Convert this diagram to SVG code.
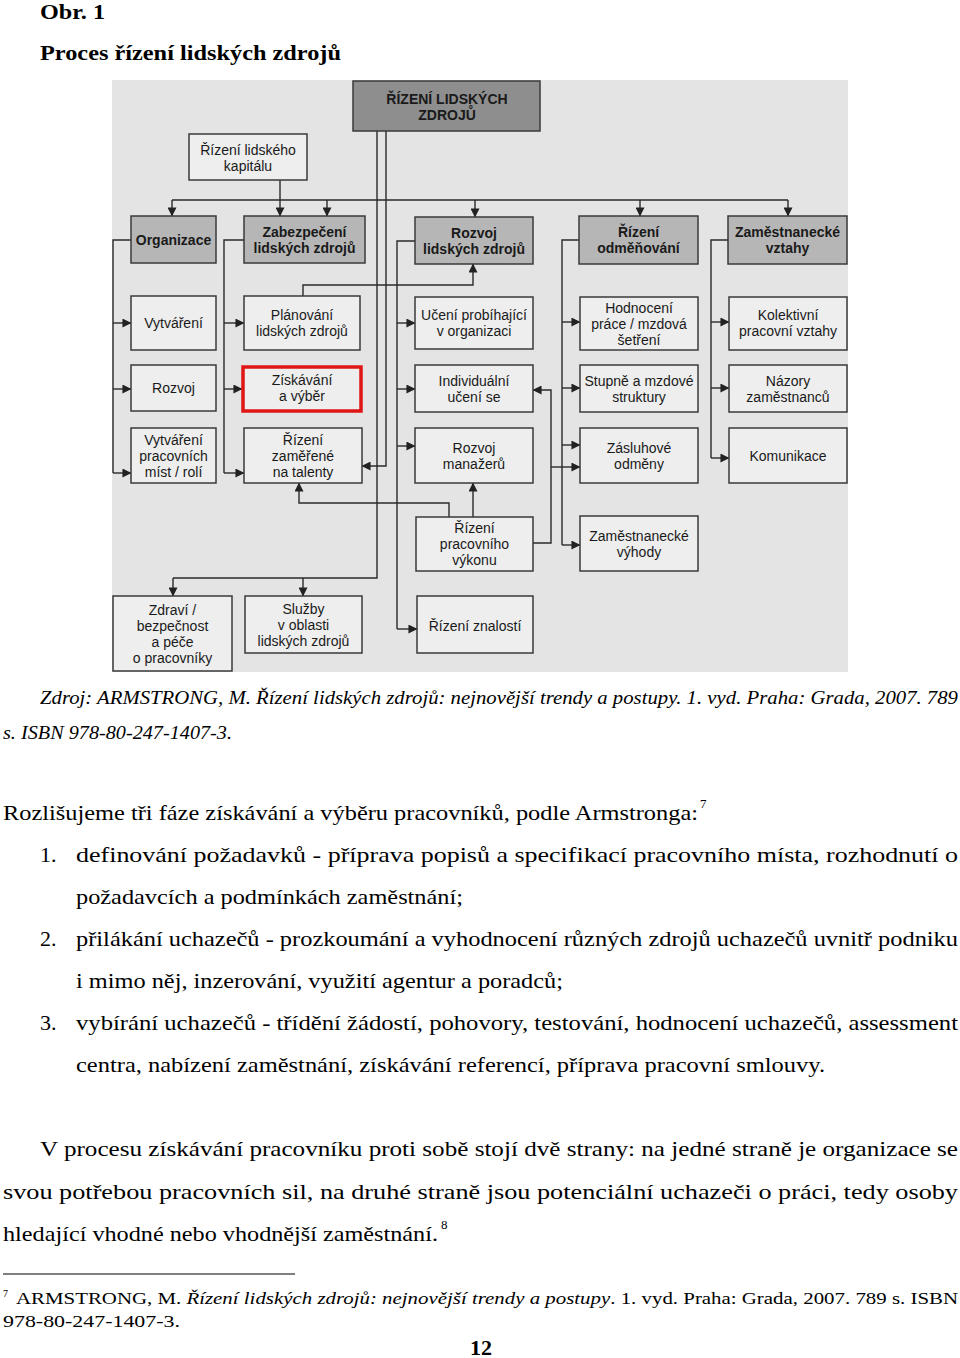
<svg xmlns="http://www.w3.org/2000/svg" width="960" height="1358" viewBox="0 0 960 1358">
<defs>
<marker id="ah" viewBox="0 0 10 10" refX="9.5" refY="5" markerWidth="9" markerHeight="9" markerUnits="userSpaceOnUse" orient="auto">
<path d="M0,0 L10,5 L0,10 z" fill="#222"/>
</marker>
<style>
.bx{fill:#eeeeee;stroke:#3a3a3a;stroke-width:1.5}
.b1{fill:#b6b6b6;stroke:#3a3a3a;stroke-width:1.5}
.b0{fill:#8e8e8e;stroke:#3a3a3a;stroke-width:1.5}
.red{fill:#eeeeee;stroke:#e01515;stroke-width:3.5}
.t{font-family:"Liberation Sans",Arial,sans-serif;font-size:14px;fill:#1a1a1a;text-anchor:middle}
.tb{font-family:"Liberation Sans",Arial,sans-serif;font-size:14px;font-weight:bold;fill:#1a1a1a;text-anchor:middle}
.c{fill:none;stroke:#2a2a2a;stroke-width:1.4}
.a{fill:none;stroke:#2a2a2a;stroke-width:1.4;marker-end:url(#ah)}
.p{font-family:"Liberation Serif","Times New Roman",serif;font-size:22px;fill:#000}
.pi{font-family:"Liberation Serif","Times New Roman",serif;font-size:19px;font-style:italic;fill:#000}
.h{font-family:"Liberation Serif","Times New Roman",serif;font-size:22px;font-weight:bold;fill:#000}
.fn{font-family:"Liberation Serif","Times New Roman",serif;font-size:17px;fill:#000}
</style>
</defs>
<rect width="960" height="1358" fill="#ffffff"/>
<text class="h" x="40" y="19" textLength="65" lengthAdjust="spacingAndGlyphs">Obr. 1</text>
<text class="h" x="40" y="60" textLength="301" lengthAdjust="spacingAndGlyphs">Proces řízení lidských zdrojů</text>
<rect x="112" y="80" width="736" height="592" fill="#e4e4e4"/>
<g id="connectors">
<path class="c" d="M172,200 H788"/>
<path class="a" d="M172,200 V216"/>
<path class="a" d="M327,200 V216"/>
<path class="a" d="M475,200 V217"/>
<path class="a" d="M640,200 V216"/>
<path class="a" d="M788,200 V216"/>
<path class="a" d="M280,180 V216"/>
<path class="c" d="M377,131 V578 H173"/>
<path class="a" d="M173,578 V596"/>
<path class="a" d="M303,578 V596"/>
<path class="a" d="M386,131 V466 H362"/>
<path class="c" d="M131,240 H113 V473"/>
<path class="a" d="M113,323 H131"/>
<path class="a" d="M113,389 H131"/>
<path class="a" d="M113,473 H131"/>
<path class="c" d="M244,240 H224 V473"/>
<path class="a" d="M224,323 H244"/>
<path class="a" d="M224,389 H242"/>
<path class="a" d="M224,473 H244"/>
<path class="a" d="M303,296 V285 H473 V264"/>
<path class="c" d="M415,241 H397 V629"/>
<path class="a" d="M397,323 H415"/>
<path class="a" d="M397,389 H415"/>
<path class="a" d="M397,446 H415"/>
<path class="a" d="M397,629 H417"/>
<path class="a" d="M473,517 V483"/>
<path class="a" d="M449,517 V503 H299 V483"/>
<path class="a" d="M533,543 H551 V390 H533"/>
<path class="a" d="M551,467 H580"/>
<path class="c" d="M579,240 H562 V545"/>
<path class="a" d="M562,322 H580"/>
<path class="a" d="M562,388 H580"/>
<path class="a" d="M562,445 H580"/>
<path class="a" d="M562,545 H580"/>
<path class="c" d="M728,240 H711 V458"/>
<path class="a" d="M711,322 H729"/>
<path class="a" d="M711,388 H729"/>
<path class="a" d="M711,458 H729"/>
</g>
<g id="n_root"><rect class="b0" x="353" y="81" width="187" height="50"/><text class="tb" x="447" y="104">ŘÍZENÍ LIDSKÝCH</text><text class="tb" x="447" y="120">ZDROJŮ</text></g>
<g id="n_kapital"><rect class="bx" x="189" y="134" width="118" height="46"/><text class="t" x="248" y="155">Řízení lidského</text><text class="t" x="248" y="171">kapitálu</text></g>
<g id="n_org"><rect class="b1" x="131" y="216" width="85" height="47"/><text class="tb" x="173.5" y="245">Organizace</text></g>
<g id="n_zab"><rect class="b1" x="244" y="216" width="121" height="47"/><text class="tb" x="304.5" y="237">Zabezpečení</text><text class="tb" x="304.5" y="253">lidských zdrojů</text></g>
<g id="n_rozvojlz"><rect class="b1" x="415" y="217" width="118" height="47"/><text class="tb" x="474" y="238">Rozvoj</text><text class="tb" x="474" y="254">lidských zdrojů</text></g>
<g id="n_odm"><rect class="b1" x="579" y="216" width="119" height="48"/><text class="tb" x="638.5" y="237">Řízení</text><text class="tb" x="638.5" y="253">odměňování</text></g>
<g id="n_zamvz"><rect class="b1" x="728" y="216" width="119" height="48"/><text class="tb" x="787.5" y="237">Zaměstnanecké</text><text class="tb" x="787.5" y="253">vztahy</text></g>
<g id="n_vytv"><rect class="bx" x="131" y="296" width="85" height="54"/><text class="t" x="173.5" y="328">Vytváření</text></g>
<g id="n_plan"><rect class="bx" x="244" y="296" width="116" height="54"/><text class="t" x="302" y="320">Plánování</text><text class="t" x="302" y="336">lidských zdrojů</text></g>
<g id="n_uceni"><rect class="bx" x="415" y="297" width="118" height="52"/><text class="t" x="474" y="320">Učení probíhající</text><text class="t" x="474" y="336">v organizaci</text></g>
<g id="n_hodn"><rect class="bx" x="580" y="297" width="118" height="53"/><text class="t" x="639" y="313">Hodnocení</text><text class="t" x="639" y="329">práce / mzdová</text><text class="t" x="639" y="345">šetření</text></g>
<g id="n_kol"><rect class="bx" x="729" y="297" width="118" height="53"/><text class="t" x="788" y="320">Kolektivní</text><text class="t" x="788" y="336">pracovní vztahy</text></g>
<g id="n_rozvoj"><rect class="bx" x="131" y="365" width="85" height="46"/><text class="t" x="173.5" y="393">Rozvoj</text></g>
<g id="n_ziskavani"><rect class="red" x="243" y="367" width="118" height="44"/><text class="t" x="302" y="385">Získávání</text><text class="t" x="302" y="401">a výběr</text></g>
<g id="n_indiv"><rect class="bx" x="415" y="365" width="118" height="47"/><text class="t" x="474" y="386">Individuální</text><text class="t" x="474" y="402">učení se</text></g>
<g id="n_stupne"><rect class="bx" x="580" y="365" width="118" height="47"/><text class="t" x="639" y="386">Stupně a mzdové</text><text class="t" x="639" y="402">struktury</text></g>
<g id="n_nazory"><rect class="bx" x="729" y="365" width="118" height="47"/><text class="t" x="788" y="386">Názory</text><text class="t" x="788" y="402">zaměstnanců</text></g>
<g id="n_vytvmist"><rect class="bx" x="131" y="428" width="85" height="55"/><text class="t" x="173.5" y="445">Vytváření</text><text class="t" x="173.5" y="461">pracovních</text><text class="t" x="173.5" y="477">míst / rolí</text></g>
<g id="n_talent"><rect class="bx" x="244" y="428" width="118" height="55"/><text class="t" x="303" y="445">Řízení</text><text class="t" x="303" y="461">zaměřené</text><text class="t" x="303" y="477">na talenty</text></g>
<g id="n_manaz"><rect class="bx" x="415" y="428" width="118" height="55"/><text class="t" x="474" y="453">Rozvoj</text><text class="t" x="474" y="469">manažerů</text></g>
<g id="n_zasl"><rect class="bx" x="580" y="428" width="118" height="55"/><text class="t" x="639" y="453">Zásluhové</text><text class="t" x="639" y="469">odměny</text></g>
<g id="n_kom"><rect class="bx" x="729" y="428" width="118" height="55"/><text class="t" x="788" y="461">Komunikace</text></g>
<g id="n_vykon"><rect class="bx" x="416" y="517" width="117" height="54"/><text class="t" x="474.5" y="533">Řízení</text><text class="t" x="474.5" y="549">pracovního</text><text class="t" x="474.5" y="565">výkonu</text></g>
<g id="n_vyhody"><rect class="bx" x="580" y="516" width="118" height="55"/><text class="t" x="639" y="541">Zaměstnanecké</text><text class="t" x="639" y="557">výhody</text></g>
<g id="n_zdravi"><rect class="bx" x="113" y="596" width="119" height="75"/><text class="t" x="172.5" y="615">Zdraví /</text><text class="t" x="172.5" y="631">bezpečnost</text><text class="t" x="172.5" y="647">a péče</text><text class="t" x="172.5" y="663">o pracovníky</text></g>
<g id="n_sluzby"><rect class="bx" x="245" y="596" width="117" height="57"/><text class="t" x="303.5" y="614">Služby</text><text class="t" x="303.5" y="630">v oblasti</text><text class="t" x="303.5" y="646">lidských zdrojů</text></g>
<g id="n_znal"><rect class="bx" x="417" y="596" width="116" height="57"/><text class="t" x="475" y="631">Řízení znalostí</text></g>
<text class="pi" x="40" y="704" textLength="918" lengthAdjust="spacingAndGlyphs">Zdroj: ARMSTRONG, M. Řízení lidských zdrojů: nejnovější trendy a postupy. 1. vyd. Praha: Grada, 2007. 789</text>
<text class="pi" x="3" y="739" textLength="229" lengthAdjust="spacingAndGlyphs">s. ISBN 978-80-247-1407-3.</text>
<text class="p" x="3" y="820" textLength="695" lengthAdjust="spacingAndGlyphs">Rozlišujeme tři fáze získávání a výběru pracovníků, podle Armstronga:</text>
<text class="p" x="700" y="808" style="font-size:13px">7</text>
<text class="p" x="40" y="862">1.</text>
<text class="p" x="76" y="862" textLength="882" lengthAdjust="spacingAndGlyphs">definování požadavků - příprava popisů a specifikací pracovního místa, rozhodnutí o</text>
<text class="p" x="76" y="904" textLength="387" lengthAdjust="spacingAndGlyphs">požadavcích a podmínkách zaměstnání;</text>
<text class="p" x="40" y="946">2.</text>
<text class="p" x="76" y="946" textLength="882" lengthAdjust="spacingAndGlyphs">přilákání uchazečů - prozkoumání a vyhodnocení různých zdrojů uchazečů uvnitř podniku</text>
<text class="p" x="76" y="988" textLength="487" lengthAdjust="spacingAndGlyphs">i mimo něj, inzerování, využití agentur a poradců;</text>
<text class="p" x="40" y="1030">3.</text>
<text class="p" x="76" y="1030" textLength="882" lengthAdjust="spacingAndGlyphs">vybírání uchazečů - třídění žádostí, pohovory, testování, hodnocení uchazečů, assessment</text>
<text class="p" x="76" y="1072" textLength="749" lengthAdjust="spacingAndGlyphs">centra, nabízení zaměstnání, získávání referencí, příprava pracovní smlouvy.</text>
<text class="p" x="40" y="1156" textLength="918" lengthAdjust="spacingAndGlyphs">V procesu získávání pracovníku proti sobě stojí dvě strany: na jedné straně je organizace se</text>
<text class="p" x="3" y="1199" textLength="955" lengthAdjust="spacingAndGlyphs">svou potřebou pracovních sil, na druhé straně jsou potenciální uchazeči o práci, tedy osoby</text>
<text class="p" x="3" y="1241" textLength="435" lengthAdjust="spacingAndGlyphs">hledající vhodné nebo vhodnější zaměstnání.</text>
<text class="p" x="441" y="1229" style="font-size:13px">8</text>
<line x1="3" y1="1274" x2="295" y2="1274" stroke="#000" stroke-width="1.2"/>
<text class="fn" x="3" y="1297" style="font-size:10px">7</text>
<text class="fn" x="16" y="1304" textLength="942" lengthAdjust="spacingAndGlyphs">ARMSTRONG, M. <tspan font-style="italic">Řízení lidských zdrojů: nejnovější trendy a postupy</tspan>. 1. vyd. Praha: Grada, 2007. 789 s. ISBN</text>
<text class="fn" x="3" y="1327" textLength="177" lengthAdjust="spacingAndGlyphs">978-80-247-1407-3.</text>
<text class="h" x="481" y="1355" text-anchor="middle">12</text>
</svg>
